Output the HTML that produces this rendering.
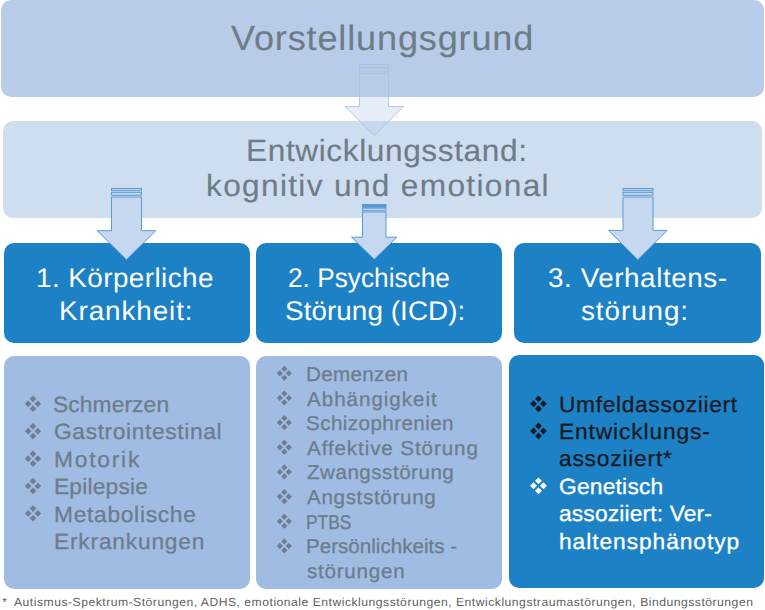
<!DOCTYPE html>
<html lang="de">
<head>
<meta charset="utf-8">
<title>Vorstellungsgrund</title>
<style>
html,body{margin:0;padding:0;background:#fff;}
body{width:765px;height:610px;position:relative;overflow:hidden;font-family:"Liberation Sans",sans-serif;}
.b{position:absolute;box-sizing:border-box;border-radius:10px;}
.t{position:absolute;white-space:pre;line-height:1;font-family:"Liberation Sans",sans-serif;text-rendering:geometricPrecision;transform-origin:0 0;}
.s1{-webkit-text-stroke:0.15px currentColor;}
.s3{-webkit-text-stroke:0.3px currentColor;}
#b1{left:1px;top:-0.5px;width:763px;height:97px;background:#b8cce9;}
#b2{left:2.8px;top:121.1px;width:759.4px;height:96.8px;background:#cfddf1;}
.h{top:243.3px;height:99.5px;background:#1d81c5;}
#h1{left:3.6px;width:246.2px;}#h2{left:256px;width:246.3px;}#h3{left:514.3px;width:246.4px;}
.c{top:355.5px;height:233px;}
#c1{left:3.7px;width:246.1px;background:#a0bce3;}
#c2{left:256px;width:246.3px;background:#a0bce3;}
#c3{left:508.6px;width:255.4px;background:#1d81c5;top:355px;height:232.5px;}
svg{position:absolute;left:0;top:0;}
</style>
</head>
<body>
<div class="b" id="b1"></div>
<div class="b" id="b2"></div>
<div class="b h" id="h1"></div>
<div class="b h" id="h2"></div>
<div class="b h" id="h3"></div>
<div class="b c" id="c1"></div>
<div class="b c" id="c2"></div>
<div class="b c" id="c3"></div>
<svg width="765" height="610" viewBox="0 0 765 610">
<rect x="359.50" y="64.50" width="29.00" height="3.30" fill="rgba(186,205,233,0.36)" stroke="#a9bde0" stroke-width="0.8"/><rect x="359.50" y="67.80" width="29.00" height="4.00" fill="rgba(186,205,233,0.36)" stroke="#a9bde0" stroke-width="0.8"/><path fill="rgba(186,205,233,0.36)" stroke="#a9bde0" stroke-width="0.8" stroke-linejoin="miter" d="M359.50 73.50L388.50 73.50L388.50 106.50L403.50 106.50L374.30 135.50L345.00 106.50L359.50 106.50Z"/>
<rect x="111.50" y="188.50" width="30.00" height="2.10" fill="#c6d8ef" stroke="#5b9bd5" stroke-width="1"/><rect x="111.50" y="192.30" width="30.00" height="2.90" fill="#c6d8ef" stroke="#5b9bd5" stroke-width="1"/><path fill="#c6d8ef" stroke="#5b9bd5" stroke-width="1" stroke-linejoin="miter" d="M111.50 197.00L141.50 197.00L141.50 230.70L155.80 230.70L126.50 259.70L97.20 230.70L111.50 230.70Z"/>
<rect x="362.50" y="204.50" width="23.50" height="2.80" fill="#5b9bd5" stroke="#5b9bd5" stroke-width="1"/><rect x="362.50" y="208.20" width="23.50" height="2.50" fill="#c6d8ef" stroke="#5b9bd5" stroke-width="1"/><path fill="#c6d8ef" stroke="#5b9bd5" stroke-width="1" stroke-linejoin="miter" d="M362.50 212.00L386.00 212.00L386.00 237.20L397.00 237.20L374.20 259.30L351.50 237.20L362.50 237.20Z"/>
<rect x="623.00" y="188.50" width="30.00" height="2.10" fill="#c6d8ef" stroke="#5b9bd5" stroke-width="1"/><rect x="623.00" y="192.30" width="30.00" height="2.90" fill="#c6d8ef" stroke="#5b9bd5" stroke-width="1"/><path fill="#c6d8ef" stroke="#5b9bd5" stroke-width="1" stroke-linejoin="miter" d="M623.00 197.00L653.00 197.00L653.00 230.40L667.20 230.40L637.80 259.70L608.60 230.40L623.00 230.40Z"/>
<path fill="#707e91" d="M33.00 395.61L36.35 398.96L33.00 402.32L29.65 398.96ZM33.00 405.28L36.35 408.64L33.00 411.99L29.65 408.64ZM28.16 400.45L31.52 403.80L28.16 407.15L24.81 403.80ZM37.84 400.45L41.19 403.80L37.84 407.15L34.48 403.80Z"/>
<path fill="#707e91" d="M33.00 423.01L36.35 426.36L33.00 429.72L29.65 426.36ZM33.00 432.68L36.35 436.04L33.00 439.39L29.65 436.04ZM28.16 427.85L31.52 431.20L28.16 434.55L24.81 431.20ZM37.84 427.85L41.19 431.20L37.84 434.55L34.48 431.20Z"/>
<path fill="#707e91" d="M33.00 450.51L36.35 453.86L33.00 457.22L29.65 453.86ZM33.00 460.18L36.35 463.54L33.00 466.89L29.65 463.54ZM28.16 455.35L31.52 458.70L28.16 462.05L24.81 458.70ZM37.84 455.35L41.19 458.70L37.84 462.05L34.48 458.70Z"/>
<path fill="#707e91" d="M33.00 477.81L36.35 481.16L33.00 484.52L29.65 481.16ZM33.00 487.48L36.35 490.84L33.00 494.19L29.65 490.84ZM28.16 482.65L31.52 486.00L28.16 489.35L24.81 486.00ZM37.84 482.65L41.19 486.00L37.84 489.35L34.48 486.00Z"/>
<path fill="#707e91" d="M33.00 505.21L36.35 508.56L33.00 511.92L29.65 508.56ZM33.00 514.88L36.35 518.24L33.00 521.59L29.65 518.24ZM28.16 510.05L31.52 513.40L28.16 516.75L24.81 513.40ZM37.84 510.05L41.19 513.40L37.84 516.75L34.48 513.40Z"/>
<path fill="#707e91" d="M284.30 365.74L287.40 368.84L284.30 371.93L281.20 368.84ZM284.30 374.67L287.40 377.76L284.30 380.86L281.20 377.76ZM279.84 370.20L282.93 373.30L279.84 376.40L276.74 373.30ZM288.76 370.20L291.86 373.30L288.76 376.40L285.67 373.30Z"/>
<path fill="#707e91" d="M284.30 390.44L287.40 393.54L284.30 396.63L281.20 393.54ZM284.30 399.37L287.40 402.46L284.30 405.56L281.20 402.46ZM279.84 394.90L282.93 398.00L279.84 401.10L276.74 398.00ZM288.76 394.90L291.86 398.00L288.76 401.10L285.67 398.00Z"/>
<path fill="#707e91" d="M284.30 415.04L287.40 418.14L284.30 421.23L281.20 418.14ZM284.30 423.97L287.40 427.06L284.30 430.16L281.20 427.06ZM279.84 419.50L282.93 422.60L279.84 425.70L276.74 422.60ZM288.76 419.50L291.86 422.60L288.76 425.70L285.67 422.60Z"/>
<path fill="#707e91" d="M284.30 439.74L287.40 442.84L284.30 445.93L281.20 442.84ZM284.30 448.67L287.40 451.76L284.30 454.86L281.20 451.76ZM279.84 444.20L282.93 447.30L279.84 450.40L276.74 447.30ZM288.76 444.20L291.86 447.30L288.76 450.40L285.67 447.30Z"/>
<path fill="#707e91" d="M284.30 464.34L287.40 467.44L284.30 470.53L281.20 467.44ZM284.30 473.27L287.40 476.36L284.30 479.46L281.20 476.36ZM279.84 468.80L282.93 471.90L279.84 475.00L276.74 471.90ZM288.76 468.80L291.86 471.90L288.76 475.00L285.67 471.90Z"/>
<path fill="#707e91" d="M284.30 489.04L287.40 492.14L284.30 495.23L281.20 492.14ZM284.30 497.97L287.40 501.06L284.30 504.16L281.20 501.06ZM279.84 493.50L282.93 496.60L279.84 499.70L276.74 496.60ZM288.76 493.50L291.86 496.60L288.76 499.70L285.67 496.60Z"/>
<path fill="#707e91" d="M284.30 513.74L287.40 516.84L284.30 519.93L281.20 516.84ZM284.30 522.67L287.40 525.76L284.30 528.86L281.20 525.76ZM279.84 518.20L282.93 521.30L279.84 524.40L276.74 521.30ZM288.76 518.20L291.86 521.30L288.76 524.40L285.67 521.30Z"/>
<path fill="#707e91" d="M284.30 538.34L287.40 541.44L284.30 544.53L281.20 541.44ZM284.30 547.27L287.40 550.36L284.30 553.46L281.20 550.36ZM279.84 542.80L282.93 545.90L279.84 549.00L276.74 545.90ZM288.76 542.80L291.86 545.90L288.76 549.00L285.67 545.90Z"/>
<path fill="#191c24" d="M538.50 395.40L541.94 398.84L538.50 402.28L535.06 398.84ZM538.50 405.32L541.94 408.76L538.50 412.20L535.06 408.76ZM533.54 400.36L536.98 403.80L533.54 407.24L530.10 403.80ZM543.46 400.36L546.90 403.80L543.46 407.24L540.02 403.80Z"/>
<path fill="#191c24" d="M538.50 422.60L541.94 426.04L538.50 429.48L535.06 426.04ZM538.50 432.52L541.94 435.96L538.50 439.40L535.06 435.96ZM533.54 427.56L536.98 431.00L533.54 434.44L530.10 431.00ZM543.46 427.56L546.90 431.00L543.46 434.44L540.02 431.00Z"/>
<path fill="#ffffff" d="M538.50 477.40L541.94 480.84L538.50 484.28L535.06 480.84ZM538.50 487.32L541.94 490.76L538.50 494.20L535.06 490.76ZM533.54 482.36L536.98 485.80L533.54 489.24L530.10 485.80ZM543.46 482.36L546.90 485.80L543.46 489.24L540.02 485.80Z"/>
</svg>
<div class="t s1" style="left:230.84px;top:21px;font-size:35px;letter-spacing:0.831px;transform:scaleX(1.0300);color:#6e7c87">Vorstellungsgrund</div>
<div class="t s1" style="left:246.24px;top:136px;font-size:30.7px;letter-spacing:0.591px;transform:scaleX(1.0300);color:#6e7c87">Entwicklungsstand:</div>
<div class="t s1" style="left:206.49px;top:171px;font-size:30.7px;letter-spacing:1.299px;transform:scaleX(1.0300);color:#6e7c87">kognitiv und emotional</div>
<div class="t" style="left:35.83px;top:265px;font-size:27px;letter-spacing:0.442px;transform:scaleX(1.0300);color:#ffffff">1. Körperliche</div>
<div class="t" style="left:58.93px;top:298px;font-size:27px;letter-spacing:0.902px;transform:scaleX(1.0300);color:#ffffff">Krankheit:</div>
<div class="t" style="left:288.26px;top:265px;font-size:27px;transform:scaleX(0.9721);color:#ffffff">2. Psychische</div>
<div class="t" style="left:284.78px;top:298px;font-size:27px;letter-spacing:0.074px;transform:scaleX(1.0300);color:#ffffff">Störung (ICD):</div>
<div class="t" style="left:548.30px;top:265px;font-size:27px;letter-spacing:0.552px;transform:scaleX(1.0300);color:#ffffff">3. Verhaltens-</div>
<div class="t" style="left:581.08px;top:298px;font-size:27px;letter-spacing:0.916px;transform:scaleX(1.0300);color:#ffffff">störung:</div>
<div class="t s3" style="left:53.39px;top:394px;font-size:22.1px;letter-spacing:0.115px;transform:scaleX(1.0300);color:#6d7d8e">Schmerzen</div>
<div class="t s3" style="left:54.35px;top:421px;font-size:22.1px;letter-spacing:0.616px;transform:scaleX(1.0300);color:#6d7d8e">Gastrointestinal</div>
<div class="t s3" style="left:54.11px;top:449px;font-size:22.1px;letter-spacing:1.736px;transform:scaleX(1.0300);color:#6d7d8e">Motorik</div>
<div class="t s3" style="left:54.11px;top:476px;font-size:22.1px;letter-spacing:0.188px;transform:scaleX(1.0300);color:#6d7d8e">Epilepsie</div>
<div class="t s3" style="left:54.11px;top:504px;font-size:22.1px;letter-spacing:0.683px;transform:scaleX(1.0300);color:#6d7d8e">Metabolische</div>
<div class="t s3" style="left:54.11px;top:531px;font-size:22.1px;letter-spacing:0.770px;transform:scaleX(1.0300);color:#6d7d8e">Erkrankungen</div>
<div class="t s3" style="left:306.26px;top:365px;font-size:20px;letter-spacing:0.328px;transform:scaleX(1.0300);color:#6d7d8e">Demenzen</div>
<div class="t s3" style="left:306.79px;top:390px;font-size:20px;letter-spacing:0.938px;transform:scaleX(1.0300);color:#6d7d8e">Abhängigkeit</div>
<div class="t s3" style="left:305.86px;top:414px;font-size:20px;letter-spacing:0.413px;transform:scaleX(1.0300);color:#6d7d8e">Schizophrenien</div>
<div class="t s3" style="left:306.79px;top:439px;font-size:20px;letter-spacing:0.871px;transform:scaleX(1.0300);color:#6d7d8e">Affektive Störung</div>
<div class="t s3" style="left:306.67px;top:463px;font-size:20px;letter-spacing:0.483px;transform:scaleX(1.0300);color:#6d7d8e">Zwangsstörung</div>
<div class="t s3" style="left:306.79px;top:488px;font-size:20px;letter-spacing:0.646px;transform:scaleX(1.0300);color:#6d7d8e">Angststörung</div>
<div class="t s3" style="left:306.47px;top:513px;font-size:20px;transform:scaleX(0.8680);color:#6d7d8e">PTBS</div>
<div class="t s3" style="left:306.26px;top:537px;font-size:20px;letter-spacing:0.002px;transform:scaleX(1.0300);color:#6d7d8e">Persönlichkeits -</div>
<div class="t s3" style="left:306.63px;top:562px;font-size:20px;letter-spacing:0.728px;transform:scaleX(1.0300);color:#6d7d8e">störungen</div>
<div class="t s3" style="left:558.65px;top:394px;font-size:22.1px;letter-spacing:0.640px;transform:scaleX(1.0300);color:#191c24">Umfeldassoziiert</div>
<div class="t s3" style="left:558.81px;top:421px;font-size:22.1px;letter-spacing:0.847px;transform:scaleX(1.0300);color:#191c24">Entwicklungs-</div>
<div class="t s3" style="left:559.17px;top:448px;font-size:22.1px;letter-spacing:0.769px;transform:scaleX(1.0300);color:#191c24">assoziiert*</div>
<div class="t s3" style="left:558.95px;top:476px;font-size:22.1px;letter-spacing:0.215px;transform:scaleX(1.0300);color:#ffffff">Genetisch</div>
<div class="t s3" style="left:559.17px;top:503px;font-size:22.1px;letter-spacing:0.153px;transform:scaleX(1.0300);color:#ffffff">assoziiert: Ver-</div>
<div class="t s3" style="left:558.85px;top:531px;font-size:22.1px;letter-spacing:0.911px;transform:scaleX(1.0300);color:#ffffff">haltensphänotyp</div>
<div class="t" style="left:2.26px;top:597px;font-size:11.8px;color:#606060">*</div>
<div class="t" style="left:14.03px;top:597px;font-size:11.8px;letter-spacing:0.489px;transform:scaleX(1.0300);color:#606060">Autismus-Spektrum-Störungen, ADHS, emotionale Entwicklungsstörungen, Entwicklungstraumastörungen, Bindungsstörungen</div>
</body>
</html>
